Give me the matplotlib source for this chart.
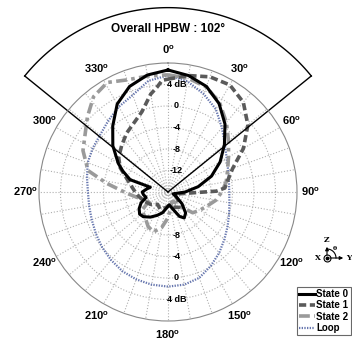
import numpy as np
import matplotlib
matplotlib.use("Agg")
import matplotlib.pyplot as plt

plt.rcParams['font.family'] = ['Liberation Sans', 'DejaVu Sans']
plt.rcParams['font.weight'] = 'bold'

# angle (deg) / gain (dB)
ang0 = [0, 10, 20, 30, 40, 50, 60, 70, 80, 90, 100, 110, 120, 130, 140, 148, 155, 165, 175, 185,
        195, 205, 215, 225, 232, 240, 248, 256, 264, 270, 278, 285, 288, 295, 300, 310, 320, 330, 340, 350, 360]
gain0 = [6.7, 6.0, 4.9, 3.0, 0.5, -2.3, -4.8, -7.4, -10.3, -12.8, -14.5, -15.0, -14.2, -12.6, -10.9, -10.3, -11.0, -12.8, -13.6, -13.0,
         -12.0, -11.2, -10.3, -9.5, -9.3, -9.8, -10.6, -11.8, -11.4, -11.2, -12.0, -12.6, -8.6, -6.7, -5.3, -2.6, 0.0, 2.9, 4.9, 6.1, 6.7]

ang1 = [0, 5, 10, 20, 30, 40, 50, 60, 70, 80, 86, 89, 92, 100, 115, 130, 145, 160, 175, 190,
        205, 220, 235, 250, 260, 270, 280, 287, 297, 305, 315, 325, 335, 342, 350, 354, 357, 360]
gain1 = [5.0, 5.4, 6.0, 6.8, 7.0, 5.8, 3.4, 0.2, -3.2, -4.8, -5.4, -7.0, -11.5, -14.0, -14.5, -13.5, -12.5, -13.0, -13.5, -13.0,
         -12.5, -13.0, -12.0, -11.2, -10.6, -9.9, -9.0, -8.1, -6.0, -4.8, -3.8, -2.6, -1.5, -0.3, 2.5, 3.6, 4.8, 5.0]

ang2 = [0, 10, 20, 30, 40, 50, 60, 70, 80, 90, 100, 110, 120, 130, 140, 150, 160, 170, 180, 190,
        200, 210, 220, 235, 246, 258, 268, 278, 285, 296, 313, 322, 331, 340, 350, 360]
gain2 = [5.8, 5.5, 4.8, 3.2, 0.9, -1.3, -3.0, -4.2, -5.0, -6.0, -7.0, -8.3, -9.2, -10.0, -12.5, -14.0, -14.0, -13.0, -11.2, -9.3,
         -8.1, -8.6, -9.5, -10.1, -12.3, -10.5, -8.4, -4.5, -0.6, 1.6, 4.5, 6.5, 7.3, 6.2, 5.9, 5.8]

angL = list(range(0, 361, 10))
gainL = [5.7, 4.9, 3.4, 1.8, -0.4, -2.2, -3.4, -4.1, -4.5, -4.6, -4.4, -3.9, -3.2, -2.3, -1.2, -0.1, 1.0, 1.5, 1.6,
         1.5, 1.3, 1.0, 0.5, 0.0, -0.5, -0.9, -1.1, -1.1, -0.7, -0.1, 0.2, 0.5, 1.3, 2.3, 3.2, 5.0, 5.7]

hpbw = 102
rings = [-12, -8, -4, 0, 4]
ring_labels = ['-12', '-8', '-4', '0', '4 dB']
theta_labels = list(range(0, 360, 30))

fig = plt.figure(figsize=(3.52, 3.40), dpi=100)
ax = fig.add_axes([39/352, 19/340, 258/352, 258/340], projection='polar')
ax.set_theta_zero_location('N')
ax.set_theta_direction(-1)

ax.plot(np.radians(angL), gainL, color='#6676ae', lw=1.6, linestyle=(0, (0.6, 0.6)), label='Loop')
ax.plot(np.radians(ang2), gain2, color='#9a9a9a', lw=2.6, linestyle=(0, (3, 1.2, 1, 1.2)), label='State 2')
ax.plot(np.radians(ang1), gain1, color='#5a5a5a', lw=2.6, linestyle=(0, (2, 1)), label='State 1')
ax.plot(np.radians(ang0), gain0, color='black', lw=2.2, label='State 0')

# HPBW sector
half = np.radians(hpbw / 2)
r_out = 18.3
ax.plot([-half, -half], [-16, r_out], color='black', lw=1, clip_on=False)
ax.plot([half, half], [-16, r_out], color='black', lw=1, clip_on=False)
arc = np.linspace(-half, half, 100)
ax.plot(arc, np.full_like(arc, r_out), color='black', lw=1, clip_on=False)

ax.set_rlim(-16, 8)
ax.set_rticks(rings)
ax.set_yticklabels([])
ax.set_thetagrids(range(0, 360, 10), labels=[])
ax.grid(True, color='#b0b0b0', linestyle=':', lw=0.8)
ax.spines['polar'].set_color('#888888')
ax.spines['polar'].set_linewidth(0.8)

for r, lab in zip(rings, ring_labels):
    ax.annotate(lab, xy=(0, r), xytext=(6, 0), textcoords='offset points',
                ha='center', va='center', fontsize=6.5, fontweight='bold')
    if r > -12:
        ax.annotate(lab, xy=(np.pi, r), xytext=(6, 0), textcoords='offset points',
                    ha='center', va='center', fontsize=6.5, fontweight='bold')

for t in theta_labels:
    ax.text(np.radians(t), 10.5, f'{t}$^{{\\mathregular{{o}}}}$', ha='center', va='center',
            fontsize=8, fontweight='bold', clip_on=False)

leg = ax.legend(handles=[ax.lines[3], ax.lines[2], ax.lines[1], ax.lines[0]],
                loc='upper left', bbox_to_anchor=(297/352, 1 - 287/340), bbox_transform=fig.transFigure,
                fontsize=7, handlelength=1.6, handletextpad=0.2, borderpad=0.2, labelspacing=0.15,
                borderaxespad=0, frameon=True, fancybox=False, edgecolor='#444444')
leg.get_frame().set_linewidth(0.8)

# overlay in pixel coordinates for title and axes icon
ov = fig.add_axes([0, 0, 1, 1])
ov.set_xlim(0, 352)
ov.set_ylim(340, 0)
ov.axis('off')
ov.text(168, 29, 'Overall HPBW : 102°', ha='center', va='center', fontsize=8.5, fontweight='bold')

ox, oy = 327, 258
ov.annotate('', xy=(ox, 244), xytext=(ox, oy), arrowprops=dict(arrowstyle='-|>', lw=0.8, color='black', mutation_scale=5))
ov.annotate('', xy=(346, oy), xytext=(ox, oy), arrowprops=dict(arrowstyle='-|>', lw=0.8, color='black', mutation_scale=5))
ov.plot([ox], [oy], marker='o', ms=5, mfc='white', mec='black', mew=0.8)
ov.plot([ox], [oy], marker='o', ms=1.8, color='black')
th = np.linspace(0, np.pi / 2, 20)
ov.plot(ox + 9 * np.cos(th), oy - 9 * np.sin(th), color='black', lw=0.8)
ov.text(ox, 240, 'Z', ha='center', va='center', fontsize=5.5, family='DejaVu Serif', fontweight='bold')
ov.text(318, oy, 'X', ha='center', va='center', fontsize=5.5, family='DejaVu Serif', fontweight='bold')
ov.text(349, oy, 'Y', ha='center', va='center', fontsize=5.5, family='DejaVu Serif', fontweight='bold')
ov.text(335, 249, 'θ', ha='center', va='center', fontsize=4.5, family='DejaVu Serif')

fig.savefig('out.png', dpi=100)
